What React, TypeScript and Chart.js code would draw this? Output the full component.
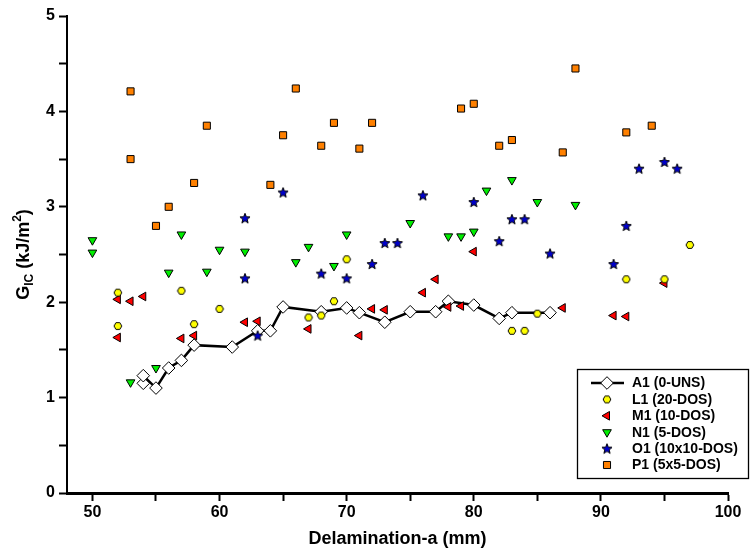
import React, { useEffect, useRef } from 'react';
import { Chart, registerables } from 'chart.js';
import { drawPoint } from 'chart.js/helpers';

Chart.register(...registerables);

// ---------- data ----------
const A1_X = [54, 54, 55, 56, 57, 58, 61, 63, 64, 65, 68, 70, 71, 73, 75, 77, 78, 80, 82, 83, 86];
const A1_Y = [1.15, 1.23, 1.1, 1.31, 1.39, 1.55, 1.53, 1.7, 1.7, 1.95, 1.9, 1.94, 1.89, 1.79, 1.9, 1.9, 2.01, 1.97, 1.83, 1.89, 1.89];

const L1_X = [52, 52, 57, 58, 60, 67, 68, 69, 70, 83, 84, 85, 92, 95, 97];
const L1_Y = [2.1, 1.75, 2.12, 1.77, 1.93, 1.84, 1.86, 2.01, 2.45, 1.7, 1.7, 1.88, 2.24, 2.24, 2.6];

const M1_X = [52, 52, 53, 54, 57, 58, 62, 63, 67, 71, 72, 73, 76, 77, 78, 79, 80, 87, 91, 92, 95];
const M1_Y = [2.03, 1.63, 2.01, 2.06, 1.62, 1.65, 1.79, 1.8, 1.72, 1.65, 1.93, 1.92, 2.1, 2.24, 1.95, 1.96, 2.53, 1.94, 1.86, 1.85, 2.2];

const N1_X = [50, 50, 53, 55, 56, 57, 59, 60, 62, 66, 67, 69, 70, 75, 78, 79, 80, 81, 83, 85, 88];
const N1_Y = [2.65, 2.52, 1.16, 1.31, 2.31, 2.71, 2.32, 2.55, 2.53, 2.42, 2.58, 2.38, 2.71, 2.83, 2.69, 2.69, 2.74, 3.17, 3.28, 3.05, 3.02];

const O1_X = [62, 62, 63, 65, 68, 70, 72, 73, 74, 76, 80, 82, 83, 84, 86, 91, 92, 93, 95, 96];
const O1_Y = [2.88, 2.25, 1.65, 3.15, 2.3, 2.25, 2.4, 2.62, 2.62, 3.12, 3.05, 2.64, 2.87, 2.87, 2.51, 2.4, 2.8, 3.4, 3.47, 3.4];

const P1_X = [53, 53, 55, 56, 58, 59, 64, 65, 66, 68, 69, 71, 72, 79, 80, 82, 83, 87, 88, 92, 94];
const P1_Y = [4.21, 3.5, 2.8, 3.0, 3.25, 3.85, 3.23, 3.75, 4.24, 3.64, 3.88, 3.61, 3.88, 4.03, 4.08, 3.64, 3.7, 3.57, 4.45, 3.78, 3.85];

const LEGEND_LABELS = ['A1 (0-UNS)', 'L1 (20-DOS)', 'M1 (10-DOS)', 'N1 (5-DOS)', 'O1 (10x10-DOS)', 'P1 (5x5-DOS)'];
const X_TICKS = [50, 55, 60, 65, 70, 75, 80, 85, 90, 95, 100];
const Y_TICKS = [0, 0.5, 1, 1.5, 2, 2.5, 3, 3.5, 4, 4.5, 5];
const X_TITLE = 'Delamination-a (mm)';

const FONT = '"Liberation Sans", Arial, Helvetica, sans-serif';

const toPts = (xs: number[], ys: number[]) => xs.map((x, i) => ({ x, y: ys[i] }));

function makeHexagon(): HTMLCanvasElement {
  const c = document.createElement('canvas');
  c.width = 10;
  c.height = 10;
  const ctx = c.getContext('2d')!;
  ctx.beginPath();
  for (let i = 0; i < 6; i++) {
    const a = (Math.PI / 3) * i;
    const px = 5 + 3.9 * Math.cos(a);
    const py = 5 + 3.9 * Math.sin(a);
    if (i === 0) ctx.moveTo(px, py);
    else ctx.lineTo(px, py);
  }
  ctx.closePath();
  ctx.fillStyle = '#ffff00';
  ctx.fill();
  ctx.strokeStyle = '#000';
  ctx.lineWidth = 1;
  ctx.stroke();
  return c;
}

function makeStar(): HTMLCanvasElement {
  const c = document.createElement('canvas');
  c.width = 12;
  c.height = 12;
  const ctx = c.getContext('2d')!;
  ctx.beginPath();
  for (let i = 0; i < 10; i++) {
    const r = i % 2 === 0 ? 5.3 : 2.3;
    const a = -Math.PI / 2 + (Math.PI / 5) * i;
    const px = 6 + r * Math.cos(a);
    const py = 6.4 + r * Math.sin(a);
    if (i === 0) ctx.moveTo(px, py);
    else ctx.lineTo(px, py);
  }
  ctx.closePath();
  ctx.fillStyle = '#0000cc';
  ctx.fill();
  ctx.strokeStyle = '#000';
  ctx.lineWidth = 1;
  ctx.stroke();
  return c;
}

export default function App() {
  const ref = useRef<HTMLCanvasElement | null>(null);

  useEffect(() => {
    if (!ref.current) return;
    const hex = makeHexagon();
    const star = makeStar();

    const styles: any[] = [
      { pointStyle: 'rectRot', radius: 6.3, rotation: 0, backgroundColor: '#ffffff', borderColor: '#000', borderWidth: 1 },
      { pointStyle: hex, radius: 4, rotation: 0, backgroundColor: '#ffff00', borderColor: '#000', borderWidth: 1 },
      { pointStyle: 'triangle', radius: 5, rotation: -90, backgroundColor: '#ff0000', borderColor: '#000', borderWidth: 1 },
      { pointStyle: 'triangle', radius: 5, rotation: 180, backgroundColor: '#00ee00', borderColor: '#000', borderWidth: 1 },
      { pointStyle: star, radius: 5, rotation: 0, backgroundColor: '#0000cc', borderColor: '#000', borderWidth: 1 },
      { pointStyle: 'rect', radius: 5, rotation: 0, backgroundColor: '#ff8000', borderColor: '#000', borderWidth: 1 },
    ];

    const series = [
      toPts(A1_X, A1_Y),
      toPts(L1_X, L1_Y),
      toPts(M1_X, M1_Y),
      toPts(N1_X, N1_Y),
      toPts(O1_X, O1_Y),
      toPts(P1_X, P1_Y),
    ];

    const datasets = series.map((data, i) => ({
      label: LEGEND_LABELS[i],
      data,
      showLine: i === 0,
      borderColor: '#000',
      borderWidth: i === 0 ? 2.5 : 1,
      backgroundColor: styles[i].backgroundColor,
      pointStyle: styles[i].pointStyle,
      pointRadius: styles[i].radius,
      pointRotation: styles[i].rotation,
      pointBackgroundColor: styles[i].backgroundColor,
      pointBorderColor: '#000',
      pointBorderWidth: 1,
      order: i === 0 ? 1 : 0,
      clip: false as any,
    }));

    const yTitlePlugin = {
      id: 'yTitle',
      afterDraw(chart: any) {
        const ctx = chart.ctx as CanvasRenderingContext2D;
        const area = chart.chartArea;
        const cy = (area.top + area.bottom) / 2;
        ctx.save();
        ctx.translate(22, cy);
        ctx.rotate(-Math.PI / 2);
        ctx.fillStyle = '#000';
        ctx.textBaseline = 'alphabetic';
        const big = `bold 18px ${FONT}`;
        const small = `bold 12px ${FONT}`;
        const parts = [
          { t: 'G', f: big, dy: 0 },
          { t: 'IC', f: small, dy: 4 },
          { t: ' (kJ/m', f: big, dy: 0 },
          { t: '2', f: small, dy: -8 },
          { t: ')', f: big, dy: 0 },
        ];
        let total = 0;
        for (const p of parts) {
          ctx.font = p.f;
          total += ctx.measureText(p.t).width;
        }
        let x = -total / 2;
        for (const p of parts) {
          ctx.font = p.f;
          ctx.fillText(p.t, x, 6.5 + p.dy);
          x += ctx.measureText(p.t).width;
        }
        ctx.restore();
      },
    };

    const legendPlugin = {
      id: 'customLegend',
      afterDraw(chart: any) {
        const ctx = chart.ctx as CanvasRenderingContext2D;
        ctx.save();
        ctx.fillStyle = '#fff';
        ctx.fillRect(577, 369, 172, 110);
        ctx.strokeStyle = '#000';
        ctx.lineWidth = 1.3;
        ctx.strokeRect(577.5, 369.5, 171, 109);
        for (let i = 0; i < 6; i++) {
          const y = 383 + 16.4 * i;
          const mx = 607;
          if (i === 0) {
            ctx.strokeStyle = '#000';
            ctx.lineWidth = 2.5;
            ctx.beginPath();
            ctx.moveTo(591, y);
            ctx.lineTo(624, y);
            ctx.stroke();
          }
          const s = styles[i];
          ctx.fillStyle = s.backgroundColor;
          ctx.strokeStyle = '#000';
          ctx.lineWidth = 1;
          drawPoint(ctx, { pointStyle: s.pointStyle, radius: s.radius, rotation: s.rotation, borderWidth: 1 } as any, mx, y);
          ctx.fillStyle = '#000';
          ctx.font = `bold 14px ${FONT}`;
          ctx.textBaseline = 'middle';
          ctx.textAlign = 'left';
          ctx.fillText(LEGEND_LABELS[i], 632, y + 0.5);
        }
        ctx.restore();
      },
    };

    const chart = new Chart(ref.current, {
      type: 'scatter',
      data: { datasets } as any,
      options: {
        animation: false,
        responsive: false,
        devicePixelRatio: 1,
        layout: { padding: { top: 16, right: 23, left: 0, bottom: 0 } },
        plugins: {
          legend: { display: false },
          tooltip: { enabled: false },
        },
        scales: {
          x: {
            type: 'linear',
            min: 48,
            max: 100,
            afterBuildTicks: (s: any) => {
              s.ticks = X_TICKS.map((v) => ({ value: v }));
            },
            afterFit: (s: any) => {
              s.height = 61;
            },
            ticks: {
              autoSkip: false,
              maxRotation: 0,
              color: '#000',
              padding: 2,
              font: { family: FONT, size: 16, weight: 'bold' },
              callback: (v: any) => (Number(v) % 10 === 0 ? String(v) : ''),
            },
            grid: {
              drawOnChartArea: false,
              drawTicks: true,
              tickLength: 8,
              tickWidth: 2,
              tickColor: '#000',
            },
            border: { display: true, color: '#000', width: 3 },
            title: {
              display: true,
              text: X_TITLE,
              color: '#000',
              font: { family: FONT, size: 18, weight: 'bold' },
              padding: { top: 0, bottom: 4 },
            },
          },
          y: {
            type: 'linear',
            min: 0,
            max: 5,
            afterBuildTicks: (s: any) => {
              s.ticks = Y_TICKS.map((v) => ({ value: v }));
            },
            afterFit: (s: any) => {
              s.width = 67;
            },
            ticks: {
              autoSkip: false,
              color: '#000',
              padding: 4,
              font: { family: FONT, size: 16, weight: 'bold' },
              callback: (v: any) => (Number.isInteger(Number(v)) ? String(v) : ''),
            },
            grid: {
              drawOnChartArea: false,
              drawTicks: true,
              tickLength: 8,
              tickWidth: 2,
              tickColor: '#000',
            },
            border: { display: true, color: '#000', width: 2 },
          },
        },
      } as any,
      plugins: [yTitlePlugin, legendPlugin],
    });
    return () => chart.destroy();
  }, []);

  return (
    <div style={{ position: 'fixed', left: 0, top: 0, width: 751, height: 554, background: '#fff' }}>
      <canvas ref={ref} width={751} height={554} style={{ display: 'block' }} />
    </div>
  );
}
